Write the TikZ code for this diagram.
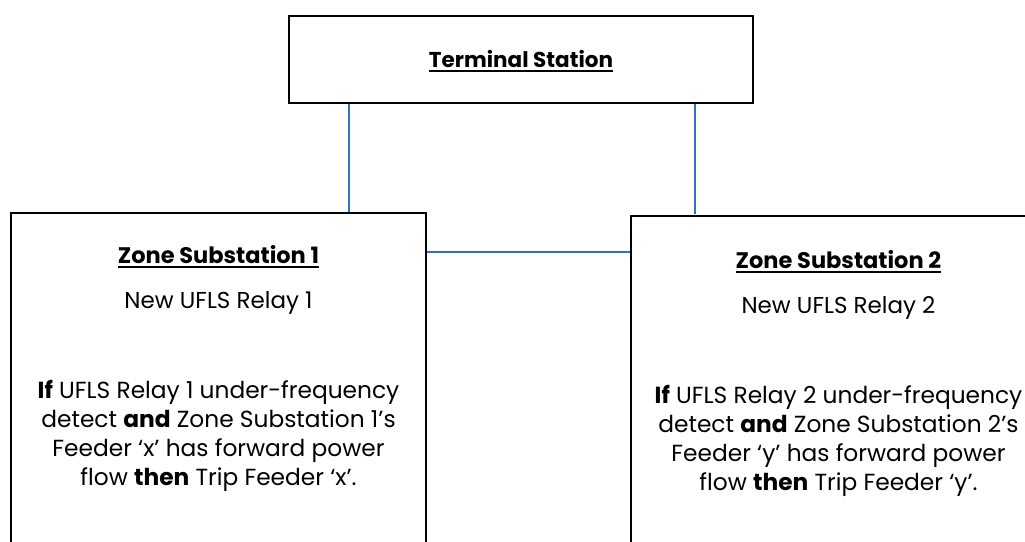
\documentclass[tikz,border=0pt]{standalone}
\usepackage{fontspec}
\setmainfont{Poppins}
\definecolor{conn}{RGB}{47,114,196}
\newcommand{\myul}[1]{\setbox0=\hbox{#1}\leavevmode\rlap{\vrule width \wd0 height -2.5pt depth 4.6pt}\box0}
\tikzset{
  box/.style={draw=black,line width=1.3pt,inner sep=0pt,rectangle},
  title/.style={font=\fontsize{22.5}{26}\selectfont\bfseries,anchor=base,inner sep=0pt},
  sub/.style={font=\fontsize{23}{26}\selectfont,anchor=base,inner sep=0pt},
  body/.style={font=\fontsize{23.3}{29}\selectfont,align=center,inner sep=0pt,anchor=center},
  conn/.style={draw=conn,line width=1.2pt}
}
\begin{document}
\begin{tikzpicture}[x=1pt,y=-1pt]
\useasboundingbox (0,0) rectangle (1025,541);
\clip (0,0) rectangle (1025,541);
\node[box,minimum width=464pt,minimum height=87pt] (T) at (521,59.5) {};
\node[box,minimum width=415pt,minimum height=347pt] (Z1) at (218.5,386.5) {};
\node[box,minimum width=440pt,minimum height=347pt] (Z2) at (851,389.5) {};
\node[title,font=\fontsize{21.5}{26}\selectfont\bfseries] (tt) at (521,67) {\myul{Terminal Station}};
\node[title] (t1) at (218.5,263) {\myul{Zone Substation 1}};
\node[sub] (s1) at (218.5,308) {New UFLS Relay 1};
\node[body] (b1) at (218.5,435.5) {\textbf{If} UFLS Relay 1 under-frequency\\detect \textbf{and} Zone Substation 1's\\Feeder ‘x’ has forward power\\flow \textbf{then} Trip Feeder ‘x’.};
\node[title] (t2) at (838.5,268) {\myul{Zone Substation 2}};
\node[sub] (s2) at (838.5,313) {New UFLS Relay 2};
\node[body] (b2) at (838.5,440.5) {\textbf{If} UFLS Relay 2 under-frequency\\detect \textbf{and} Zone Substation 2's\\Feeder ‘y’ has forward power\\flow \textbf{then} Trip Feeder ‘y’.};
\coordinate (cl) at (349,0);
\coordinate (cr) at (695,0);
\coordinate (ch) at (0,252);
\coordinate (cre) at (695,214);
\draw[conn] (cl |- T.south) -- (cl |- Z1.north);
\draw[conn] (cr |- T.south) -- (cre);
\draw[conn] (Z1.east |- ch) -- (Z2.west |- ch);
\end{tikzpicture}
\end{document}
